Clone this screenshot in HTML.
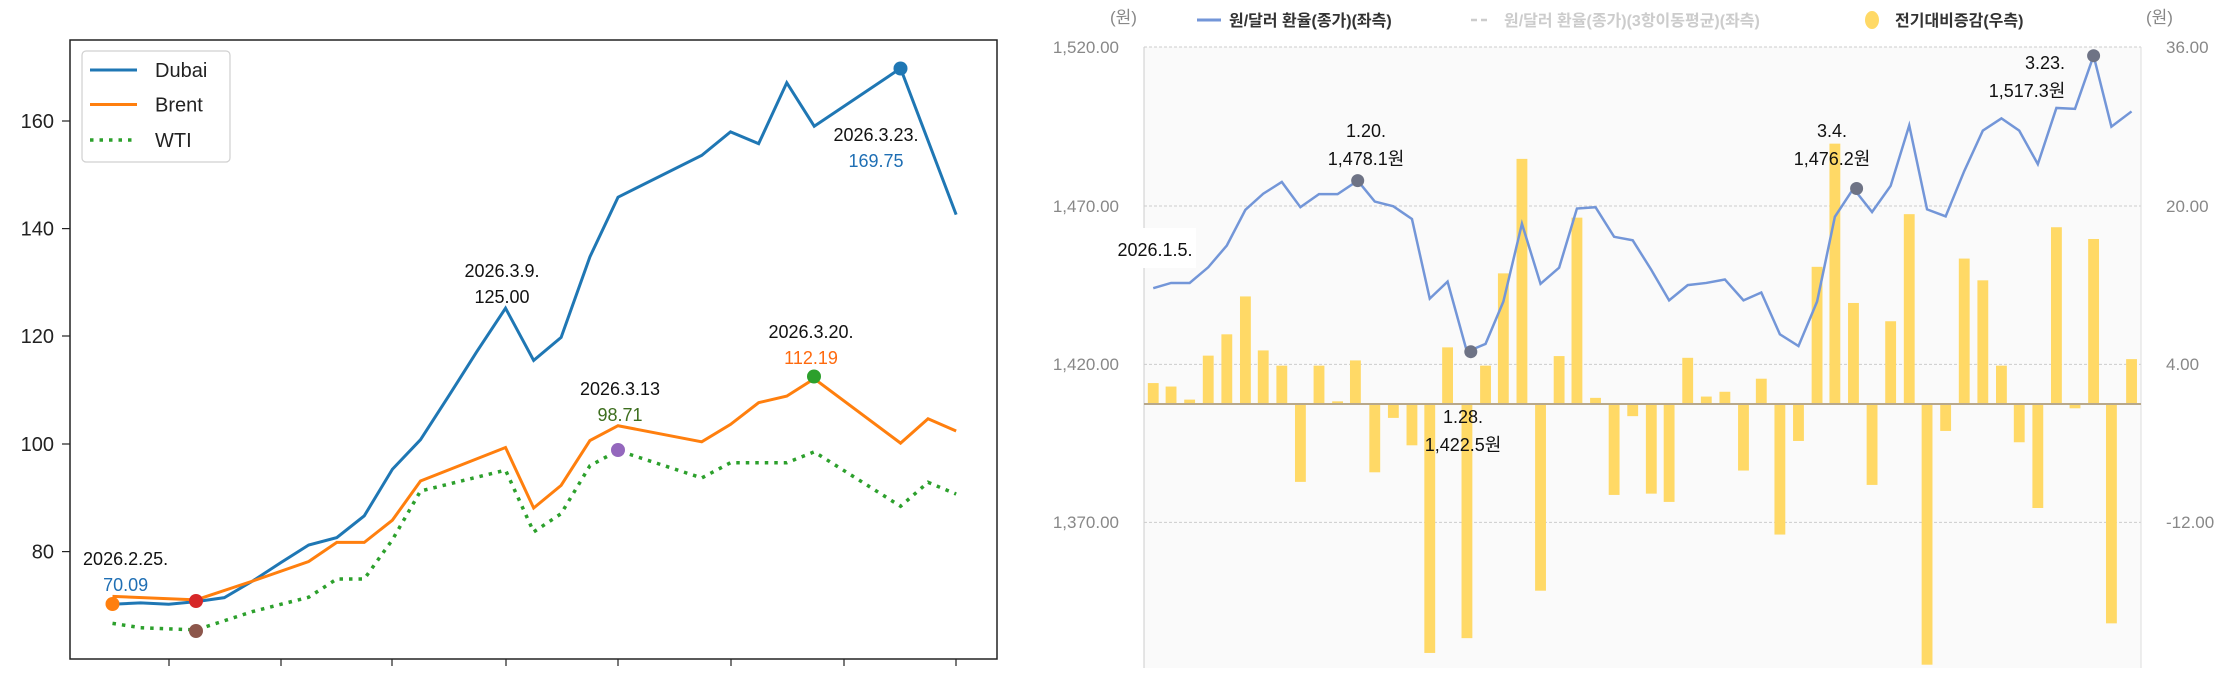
<!DOCTYPE html>
<html><head><meta charset="utf-8"><style>
html,body{margin:0;padding:0;background:#fff;width:2228px;height:679px;overflow:hidden}
svg{display:block}
text{font-family:"Liberation Sans","Noto Sans CJK KR",sans-serif}
</style></head><body>
<svg width="2228" height="679" viewBox="0 0 2228 679" xmlns="http://www.w3.org/2000/svg">
<rect width="2228" height="679" fill="#fff"/>
<!-- LEFT CHART -->
<g transform="scale(0.654,0.4353)" fill="none">
<polyline vector-effect="non-scaling-stroke" stroke="#1f77b4" stroke-width="3" points="172,1388 215,1385 258,1388 300,1382 343,1373 386,1335 430,1292 472,1252 515,1235 557,1185 600,1078 643,1010 686,910 729,808 773,708 816,828 858,775 902,590 945,453 1073,357 1117,303 1160,330 1203,190 1245,290 1377,157 1462,493"/>
<polyline vector-effect="non-scaling-stroke" stroke="#ff7f0e" stroke-width="3" points="172,1370 300,1378 386,1335 472,1290 515,1246 557,1246 600,1195 643,1105 773,1028 816,1167 858,1115 902,1012 945,978 1073,1015 1117,975 1160,925 1203,910 1245,870 1377,1018 1419,962 1462,990"/>
<polyline vector-effect="non-scaling-stroke" stroke="#2ca02c" stroke-width="3.5" stroke-dasharray="3.5,6" points="172,1432 215,1442 300,1447 386,1405 472,1372 515,1330 557,1330 600,1240 643,1128 773,1080 816,1222 858,1180 902,1070 945,1035 1073,1098 1117,1063 1203,1063 1245,1038 1377,1163 1419,1108 1462,1135"/>
</g>
<rect x="70" y="40" width="927" height="619" fill="none" stroke="#222" stroke-width="1.5"/>
<g stroke="#222" stroke-width="1.2">
<line x1="62" y1="121" x2="70" y2="121"/><line x1="62" y1="228.6" x2="70" y2="228.6"/><line x1="62" y1="336" x2="70" y2="336"/><line x1="62" y1="444" x2="70" y2="444"/><line x1="62" y1="551.6" x2="70" y2="551.6"/>
<line x1="169" y1="659" x2="169" y2="666"/><line x1="281" y1="659" x2="281" y2="666"/><line x1="392" y1="659" x2="392" y2="666"/><line x1="506" y1="659" x2="506" y2="666"/><line x1="618" y1="659" x2="618" y2="666"/><line x1="731" y1="659" x2="731" y2="666"/><line x1="844" y1="659" x2="844" y2="666"/><line x1="956" y1="659" x2="956" y2="666"/>
</g>
<g font-size="20" fill="#222" text-anchor="end">
<text x="54" y="128">160</text><text x="54" y="235.6">140</text><text x="54" y="343">120</text><text x="54" y="451">100</text><text x="54" y="558.6">80</text>
</g>
<circle cx="112.5" cy="604" r="7" fill="#ff7f0e"/>
<circle cx="196" cy="601" r="7" fill="#d62728"/>
<circle cx="196" cy="631" r="7" fill="#8c564b"/>
<circle cx="618" cy="450" r="7" fill="#9467bd"/>
<circle cx="814" cy="376.5" r="7" fill="#2ca02c"/>
<circle cx="900.5" cy="68.5" r="7" fill="#1f77b4"/>
<rect x="82" y="51" width="148" height="111" rx="4" fill="#fff" stroke="#ccc" stroke-width="1.2" opacity="0.9"/>
<line x1="90" y1="70" x2="137" y2="70" stroke="#1f77b4" stroke-width="3"/>
<line x1="90" y1="104.5" x2="137" y2="104.5" stroke="#ff7f0e" stroke-width="3"/>
<line x1="90" y1="140" x2="137" y2="140" stroke="#2ca02c" stroke-width="3.5" stroke-dasharray="3.5,6"/>
<g font-size="20" fill="#222"><text x="155" y="77">Dubai</text><text x="155" y="111.5">Brent</text><text x="155" y="147">WTI</text></g>
<g font-size="18" text-anchor="middle" fill="#111">
<text x="125.6" y="565">2026.2.25.</text><text x="125.6" y="591" fill="#1f6fb4">70.09</text>
<text x="502" y="277">2026.3.9.</text><text x="502" y="303">125.00</text>
<text x="620" y="395">2026.3.13</text><text x="620" y="421" fill="#3d6e1e">98.71</text>
<text x="811" y="338">2026.3.20.</text><text x="811" y="364" fill="#ff6a0e">112.19</text>
<text x="876" y="141">2026.3.23.</text><text x="876" y="167" fill="#1f6fb4">169.75</text>
</g>
<!-- RIGHT CHART -->
<rect x="1144" y="47" width="997" height="621" fill="#fafafa"/>
<g stroke="#ccc" stroke-width="1" stroke-dasharray="3,2">
<line x1="1144" y1="47" x2="2141" y2="47"/><line x1="1144" y1="206" x2="2141" y2="206"/><line x1="1144" y1="364.4" x2="2141" y2="364.4"/><line x1="1144" y1="522.4" x2="2141" y2="522.4"/>
</g>
<line x1="1144" y1="47" x2="1144" y2="668" stroke="#ccc"/>
<line x1="2141" y1="47" x2="2141" y2="668" stroke="#ddd"/>
<g transform="translate(1020,0) scale(0.7746,0.4353)" fill="#ffd966">
<rect x="165" y="880" width="14" height="48"/><rect x="188" y="888" width="14" height="40"/><rect x="212" y="918" width="14" height="10"/><rect x="236" y="817" width="14" height="111"/><rect x="260" y="768" width="14" height="160"/><rect x="284" y="681" width="14" height="247"/><rect x="307" y="805" width="14" height="123"/><rect x="331" y="840" width="14" height="88"/><rect x="355" y="928" width="14" height="179"/><rect x="379" y="840" width="14" height="88"/><rect x="403" y="922" width="14" height="6"/><rect x="426" y="828" width="14" height="100"/><rect x="451" y="928" width="14" height="157"/><rect x="475" y="928" width="14" height="32"/><rect x="499" y="928" width="14" height="95"/><rect x="522" y="928" width="14" height="572"/><rect x="545" y="798" width="14" height="130"/><rect x="570" y="928" width="14" height="538"/><rect x="594" y="840" width="14" height="88"/><rect x="617" y="628" width="14" height="300"/><rect x="641" y="365" width="14" height="563"/><rect x="665" y="928" width="14" height="429"/><rect x="689" y="818" width="14" height="110"/><rect x="712" y="500" width="14" height="428"/><rect x="736" y="914" width="14" height="14"/><rect x="760" y="928" width="14" height="209"/><rect x="784" y="928" width="14" height="28"/><rect x="808" y="928" width="14" height="206"/><rect x="831" y="928" width="14" height="225"/><rect x="855" y="822" width="14" height="106"/><rect x="879" y="911" width="14" height="17"/><rect x="903" y="900" width="14" height="28"/><rect x="927" y="928" width="14" height="153"/><rect x="950" y="870" width="14" height="58"/><rect x="974" y="928" width="14" height="300"/><rect x="998" y="928" width="14" height="85"/><rect x="1022" y="613" width="14" height="315"/><rect x="1045" y="330" width="14" height="598"/><rect x="1069" y="696" width="14" height="232"/><rect x="1093" y="928" width="14" height="186"/><rect x="1117" y="738" width="14" height="190"/><rect x="1141" y="492" width="14" height="436"/><rect x="1164" y="928" width="14" height="599"/><rect x="1188" y="928" width="14" height="62"/><rect x="1212" y="594" width="14" height="334"/><rect x="1236" y="644" width="14" height="284"/><rect x="1260" y="840" width="14" height="88"/><rect x="1283" y="928" width="14" height="88"/><rect x="1307" y="928" width="14" height="239"/><rect x="1331" y="522" width="14" height="406"/><rect x="1355" y="928" width="14" height="10"/><rect x="1379" y="549" width="14" height="379"/><rect x="1402" y="928" width="14" height="504"/><rect x="1428" y="825" width="14" height="103"/>
<polyline vector-effect="non-scaling-stroke" fill="none" stroke="#7396d8" stroke-width="2.5" points="172,662 195,650 219,650 243,614 267,564 291,482 314,445 338,418 362,476 386,446 410,446 436,415 458,463 482,474 506,503 529,686 552,647 577,808 601,790 624,693 648,514 672,652 696,615 719,479 743,476 767,544 791,552 815,620 838,690 862,655 886,650 910,642 934,690 957,672 981,768 1005,795 1029,693 1052,498 1076,433 1100,487 1124,427 1148,288 1171,481 1195,497 1219,393 1243,300 1267,272 1290,300 1314,377 1338,248 1362,250 1386,128 1409,291 1435,256"/>
</g>
<line x1="1144" y1="404" x2="2141" y2="404" stroke="#b8a88a" stroke-width="2"/>
<g fill="#6e7385"><circle cx="1357.7" cy="180.6" r="6.5"/><circle cx="1470.8" cy="351.7" r="6.5"/><circle cx="1856.6" cy="188.5" r="6.5"/><circle cx="2093.6" cy="55.7" r="6.5"/></g>
<g font-size="17" fill="#888" text-anchor="end">
<text x="1119" y="53">1,520.00</text><text x="1119" y="212">1,470.00</text><text x="1119" y="370">1,420.00</text><text x="1119" y="528">1,370.00</text>
</g>
<g font-size="17" fill="#888">
<text x="2166" y="53">36.00</text><text x="2166" y="212">20.00</text><text x="2166" y="370">4.00</text><text x="2166" y="528">-12.00</text>
<text x="1110" y="23">(원)</text><text x="2146" y="23">(원)</text>
</g>
<line x1="1197" y1="20" x2="1221" y2="20" stroke="#7396d8" stroke-width="3"/>
<text x="1229" y="26" font-size="16" font-weight="bold" fill="#333">원/달러 환율(종가)(좌측)</text>
<line x1="1471" y1="20" x2="1491" y2="20" stroke="#ccc" stroke-width="2.5" stroke-dasharray="6,4"/>
<text x="1504" y="26" font-size="16" font-weight="bold" fill="#ccc">원/달러 환율(종가)(3항이동평균)(좌측)</text>
<ellipse cx="1872" cy="20" rx="7" ry="9" fill="#ffd966"/>
<text x="1895" y="26" font-size="16" font-weight="bold" fill="#333">전기대비증감(우측)</text>
<rect x="1112" y="228" width="84" height="40" fill="#fff"/>
<g font-size="18" fill="#111" text-anchor="middle">
<text x="1155" y="256">2026.1.5.</text>
<text x="1366" y="137">1.20.</text><text x="1366" y="165">1,478.1원</text>
<text x="1463" y="423">1.28.</text><text x="1463" y="451">1,422.5원</text>
<text x="1832" y="137">3.4.</text><text x="1832" y="165">1,476.2원</text>
<text x="2045" y="69">3.23.</text><text x="2027" y="97">1,517.3원</text>
</g>
</svg>
</body></html>
